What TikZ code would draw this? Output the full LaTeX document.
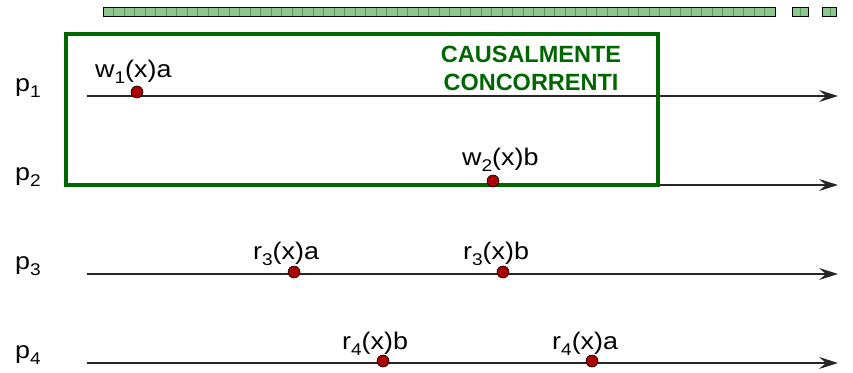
\documentclass[tikz,border=0pt]{standalone}
\usepackage{fontspec}
\setmainfont{Liberation Sans}[FakeStretch=1.12]
\newfontfamily\boxfont{Liberation Sans}
\usetikzlibrary{arrows.meta}

\definecolor{boxgreen}{RGB}{0,102,0}
\definecolor{dotred}{RGB}{170,0,0}
\definecolor{barfill}{RGB}{140,200,140}
\definecolor{barline}{RGB}{85,155,85}

\newcommand\sub[1]{\raisebox{-0.26em}{\fontsize{17}{17}\selectfont #1}}

\tikzset{
  timeline/.style={black!85, line width=1.3pt, -{Stealth[length=19pt,width=12pt,inset=7pt]}},
  evdot/.style={circle, draw=black, line width=0.6pt, fill=dotred, minimum size=12pt, inner sep=0pt},
  evtext/.style={anchor=base west, inner sep=0pt, font=\fontsize{24}{28}\selectfont},
  boxtext/.style={anchor=base, inner sep=0pt, text=boxgreen, font=\boxfont\bfseries\fontsize{23.5}{28}\selectfont}
}

\begin{document}
\begin{tikzpicture}[x=1pt, y=-1pt]
    \useasboundingbox (0,0) rectangle (853,372);
    % The green strip at the top.
        \fill[barfill] (103,7) rectangle (775,16);
        \foreach \x in {113.5,124,...,770} \draw[barline] (\x,7) -- (\x,16);
        \draw[black, line width=0.8pt] (103,7) rectangle (775,16);
        \fill[barfill] (792,7) rectangle (808,16);
        \draw[barline] (800,7) -- (800,16);
        \draw[black, line width=0.8pt] (792,7) rectangle (808,16);
        \fill[barfill] (822,7) rectangle (836,16);
        \draw[barline] (830,7) -- (830,16);
        \draw[black, line width=0.8pt] (822,7) rectangle (836,16);
    % Processes and their time lines.
        \foreach \i/\y in {1/96,2/185,3/274,4/363} {
            \node[evtext, anchor=base west] (p\i) at (15,\y-5) {p\sub{\i}};
            \coordinate (s\i) at (87,\y);
            \coordinate (f\i) at (838,\y);
            \draw[timeline] (s\i) -- (f\i);
        }
    % The box round the concurrent writes.
        \draw[boxgreen, line width=4pt] (66,34) rectangle (658,185);
        \node[boxtext] (c1) at (531,62) {CAUSALMENTE};
        \node[boxtext] (c2) at (531,90) {CONCORRENTI};
    % Below nodes are the events.
        \node[evtext] (t1) at (95,77) {w\sub{1}(x)a};
        \node[evtext] (t2) at (462,165) {w\sub{2}(x)b};
        \node[evtext] (t3) at (253,259) {r\sub{3}(x)a};
        \node[evtext] (t4) at (463,259) {r\sub{3}(x)b};
        \node[evtext] (t5) at (342,349) {r\sub{4}(x)b};
        \node[evtext] (t6) at (552,349) {r\sub{4}(x)a};
        \node[evdot] (e1) at (137,92) {};
        \node[evdot] (e2) at (493,181) {};
        \node[evdot] (e3) at (294,272) {};
        \node[evdot] (e4) at (503,272) {};
        \node[evdot] (e5) at (383,361) {};
        \node[evdot] (e6) at (592,361) {};
\end{tikzpicture}
\end{document}
